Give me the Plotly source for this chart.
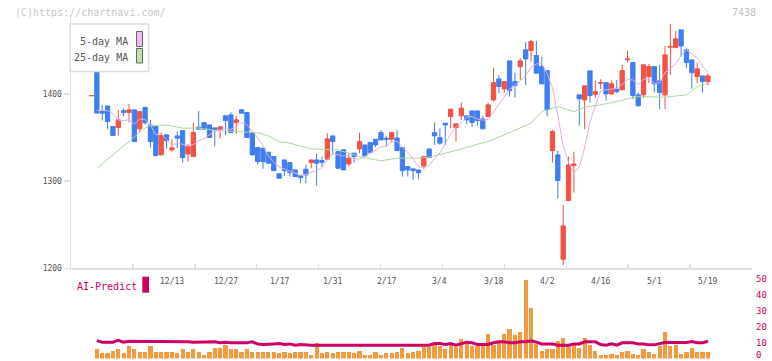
import plotly.graph_objects as go

# ---------------- data ----------------
DATE_LABELS = ["12/13", "12/27", "1/17", "1/31", "2/17", "3/4", "3/18", "4/2", "4/16", "5/1", "5/19"]
DATE_INDEX = [15, 25, 35, 45, 55, 65, 75, 85, 95, 105, 115]

OPEN = [1398, 1440, 1379.7, 1386.2, 1362.5, 1361.4, 1380.8, 1378.6, 1381.7, 1359.9,
        1384.3, 1364.4, 1362.5, 1330.0, 1353.0, 1335.8, 1351.8, 1357.9, 1331.2, 1328.1,
        1361.8, 1367.1, 1364.4, 1361.0, 1359.5, 1374.8, 1375.9, 1367.1, 1381.7, 1378.6,
        1355.6, 1338.4, 1337.7, 1333.1, 1328.1, 1308.3, 1324.3, 1321.2, 1312.8, 1306.0,
        1313.6, 1321.2, 1324.3, 1323.5, 1325.1, 1351.8, 1333.8, 1335.8, 1319.7, 1332.0,
        1336.9, 1341.5, 1344.2, 1348.0, 1355.6, 1349.2, 1348.0, 1349.5, 1338.4, 1316.6,
        1314.0, 1312.8, 1317.4, 1336.9, 1355.6, 1349.9, 1366.4, 1374.0, 1361.4, 1374.8,
        1374.8, 1380.5, 1380.5, 1371.3, 1374.0, 1393.1, 1417.2, 1405.7, 1437.8, 1414.1,
        1431.3, 1450.5, 1449.7, 1443.9, 1431.3, 1426.7, 1335.0, 1330.0, 1210.4, 1277.6,
        1317.8, 1398.9, 1393.1, 1426.4, 1399.7, 1412.3, 1413.0, 1400.0, 1405.4, 1404.6,
        1439.3, 1435.9, 1398.9, 1398.9, 1419.8, 1431.3, 1414.9, 1398.9, 1453.6, 1453.1,
        1473.4, 1450.5, 1439.0, 1419.8, 1420.6, 1414.1]
HIGH = [1398, 1440, 1387.4, 1386.2, 1362.5, 1381.7, 1383.6, 1388.5, 1381.7, 1379.7,
        1385.4, 1370.2, 1362.5, 1355.6, 1353.0, 1348.0, 1356.8, 1357.9, 1342.7, 1367.1,
        1380.5, 1367.1, 1364.4, 1361.0, 1362.2, 1374.8, 1379.0, 1374.8, 1382.8, 1378.6,
        1355.6, 1338.4, 1337.7, 1333.1, 1328.1, 1308.3, 1324.3, 1321.2, 1312.8, 1306.0,
        1318.6, 1324.3, 1331.2, 1328.1, 1354.9, 1351.8, 1333.8, 1335.8, 1330.8, 1332.0,
        1355.6, 1341.5, 1344.2, 1348.0, 1358.7, 1351.8, 1355.6, 1358.7, 1338.4, 1316.6,
        1314.0, 1312.8, 1328.1, 1336.9, 1367.1, 1360.7, 1366.4, 1382.5, 1365.6, 1390.0,
        1374.8, 1380.5, 1380.5, 1374.8, 1390.0, 1430.2, 1421.8, 1414.1, 1437.8, 1424.4,
        1440.9, 1459.3, 1461.9, 1460.8, 1442.8, 1426.7, 1358.7, 1335.0, 1272.7, 1328.1,
        1333.8, 1398.9, 1409.2, 1426.4, 1415.3, 1416.9, 1413.0, 1415.3, 1416.1, 1433.3,
        1449.7, 1435.9, 1401.5, 1433.3, 1434.4, 1431.3, 1433.3, 1455.0, 1480.3, 1472.2,
        1473.4, 1452.4, 1439.0, 1435.9, 1420.6, 1423.7]
LOW = [1398, 1378, 1369.4, 1359.5, 1352.2, 1352.2, 1374.0, 1367.1, 1345.3, 1355.6,
       1364.4, 1338.4, 1329.2, 1330.0, 1336.9, 1333.8, 1337.7, 1321.2, 1322.4, 1328.1,
       1359.5, 1358.7, 1349.9, 1339.6, 1348.4, 1353.0, 1355.6, 1354.1, 1377.9, 1349.9,
       1330.0, 1319.4, 1314.0, 1320.5, 1312.0, 1303.3, 1306.0, 1305.2, 1305.2, 1297.6,
       1297.6, 1314.8, 1294.8, 1316.6, 1325.1, 1330.0, 1314.8, 1312.8, 1316.6, 1321.2,
       1332.0, 1328.9, 1332.7, 1338.9, 1347.2, 1339.6, 1344.2, 1335.0, 1305.2, 1305.2,
       1301.4, 1302.2, 1314.0, 1326.9, 1341.5, 1341.5, 1341.5, 1360.7, 1345.3, 1370.2,
       1365.6, 1361.8, 1363.3, 1359.9, 1374.0, 1391.2, 1400.8, 1401.5, 1396.9, 1395.8,
       1416.1, 1410.3, 1437.0, 1423.7, 1411.5, 1374.0, 1321.2, 1280.4, 1203.9, 1277.6,
       1286.8, 1363.6, 1359.5, 1390.0, 1395.1, 1405.7, 1392.3, 1398.9, 1400.8, 1404.6,
       1435.9, 1393.9, 1386.2, 1395.1, 1412.3, 1401.5, 1382.5, 1382.5, 1421.8, 1453.1,
       1442.8, 1429.5, 1405.7, 1412.3, 1401.5, 1409.5]
CLOSE = [1398, 1378, 1377.9, 1368.2, 1352.2, 1370.2, 1378.6, 1381.7, 1345.3, 1379.7,
         1367.1, 1345.3, 1329.2, 1352.2, 1346.4, 1338.1, 1349.2, 1326.9, 1339.6, 1355.6,
         1359.5, 1359.5, 1349.9, 1358.7, 1362.2, 1369.4, 1355.6, 1370.2, 1377.9, 1349.9,
         1330.0, 1322.4, 1322.4, 1320.5, 1312.0, 1303.3, 1312.0, 1309.7, 1305.2, 1304.0,
         1307.1, 1324.3, 1320.5, 1321.7, 1348.4, 1345.3, 1314.8, 1312.8, 1326.3, 1328.1,
         1345.3, 1328.9, 1332.7, 1341.5, 1347.2, 1348.0, 1355.6, 1335.0, 1312.0, 1312.8,
         1312.0, 1309.7, 1328.1, 1326.9, 1351.8, 1343.5, 1364.4, 1382.5, 1365.6, 1383.6,
         1370.2, 1367.1, 1369.4, 1359.9, 1387.4, 1413.0, 1408.4, 1414.1, 1403.8, 1409.5,
         1437.8, 1440.1, 1460.0, 1423.7, 1411.5, 1381.7, 1356.8, 1300.6, 1248.6, 1318.6,
         1319.7, 1394.3, 1409.2, 1398.1, 1402.6, 1413.0, 1400.0, 1411.5, 1402.6, 1426.7,
         1440.1, 1398.1, 1386.2, 1433.3, 1431.3, 1411.5, 1401.5, 1444.7, 1454.2, 1463.1,
         1455.0, 1435.9, 1424.4, 1428.7, 1414.1, 1420.6]

MA5 = [None, 1381, 1381, 1381, 1377, 1370, 1369.4, 1370.2, 1365.6, 1371.2,
       1370.6, 1363.8, 1353.2, 1354.6, 1347.8, 1342, 1342.8, 1342.4, 1340, 1342,
       1346.4, 1348.6, 1353.2, 1357, 1358.2, 1360, 1359.2, 1363.2, 1367, 1364.6,
       1356.8, 1350, 1340.4, 1329, 1321.4, 1316, 1314, 1311.6, 1308.4, 1306.8,
       1307.6, 1310, 1312.2, 1315.6, 1324.4, 1332, 1330.2, 1328.6, 1329.4, 1325.4,
       1325.4, 1328.2, 1332.2, 1335.4, 1339.2, 1339.8, 1345.2, 1345.6, 1339.6, 1332.8,
       1325.6, 1316.4, 1315, 1318, 1325.8, 1332.2, 1343, 1354, 1361.8, 1368.2,
       1373.4, 1374, 1371.2, 1370, 1370.6, 1379.2, 1387.4, 1396.4, 1405.2, 1409.8,
       1414.8, 1421.2, 1430.4, 1434.4, 1434.8, 1423.6, 1407, 1375.2, 1340.2, 1321.6,
       1309.2, 1316.6, 1338.2, 1368, 1384.8, 1403.4, 1404.6, 1405.2, 1406.2, 1411,
       1416.4, 1416, 1410.8, 1416.8, 1417.6, 1412, 1412.8, 1424.6, 1428.8, 1435.2,
       1443.8, 1450.6, 1446.4, 1441.4, 1431.6, 1424.8]

MA25_INDEX = [1, 5, 8, 10, 11, 14, 17, 20, 24, 31, 33, 35, 37, 41, 46, 50, 54, 57, 61, 63,
              66, 69, 72, 74, 77, 80, 82, 84, 87, 90, 92, 95, 99, 102, 107, 111, 113, 115]
MA25_VALUE = [1314.8, 1335.8, 1351.0, 1361.0, 1363.6, 1364.4, 1360.7, 1360.7, 1357.6, 1355.6,
              1351.8, 1345.3, 1343.5, 1336.9, 1335.8, 1328.1, 1323.2, 1326.3, 1326.3, 1327.4,
              1332.0, 1336.6, 1342.3, 1345.3, 1353.0, 1360.7, 1366.4, 1379.7, 1385.4, 1379.7,
              1384.7, 1387.4, 1393.1, 1396.9, 1396.2, 1398.9, 1408.4, 1412.3]

VOLUME = [None, 5.7, 3.2, 3.2, 5.0, 5.7, 3.2, 7.6, 6.3, 4.4,
          3.8, 7.6, 3.8, 3.8, 3.8, 4.4, 3.2, 5.7, 4.4, 5.7,
          4.4, 1.9, 3.8, 6.9, 6.9, 8.2, 5.7, 6.3, 4.4, 5.7,
          4.4, 3.8, 3.8, 4.4, 3.8, 3.2, 3.8, 3.2, 3.8, 3.8,
          3.8, 2.5, 9.5, 3.2, 4.4, 3.2, 4.4, 3.8, 3.8, 3.2,
          5.0, 2.5, 1.9, 3.8, 2.5, 3.2, 3.2, 3.8, 6.9, 3.2,
          3.8, 5.0, 7.1, 7.2, 8.2, 7.6, 6.3, 8.4, 7.5, 12.6,
          9.5, 7.8, 7.8, 7.8, 15.7, 8.2, 10.5, 15.7, 18.3, 15.1,
          17.0, 49.7, 32.1, 9.2, 5.0, 5.7, 5.7, 11.3, 13.2, 8.2,
          8.2, 6.9, 13.2, 8.2, 5.0, 2.5, 1.9, 3.1, 2.5, 3.8,
          5.0, 3.1, 2.5, 6.3, 3.8, 3.1, 7.6, 17.0, 7.6, 8.2,
          3.1, 3.8, 6.9, 4.4, 4.4, 3.8]

AI_PREDICT = [None, 11.3, 10.3, 10.3, 10.3, 11.5, 10.3, 10.9, 10.9, 10.9,
              10.9, 10.9, 10.9, 10.9, 10.9, 10.9, 10.9, 10.9, 10.5, 10.3,
              10.3, 10.3, 10.3, 10.5, 9.9, 10.3, 10.0, 10.0, 10.0, 10.0,
              10.5, 9.2, 8.8, 9.2, 9.2, 9.4, 8.8, 9.2, 8.4, 8.8,
              8.4, 8.4, 8.4, 8.4, 8.4, 8.4, 8.4, 8.4, 8.4, 8.4,
              8.4, 8.4, 8.4, 8.4, 8.4, 8.4, 8.4, 8.4, 8.4, 8.4,
              8.4, 8.4, 8.4, 8.4, 9.4, 9.4, 8.8, 9.4, 8.4, 9.4,
              10.3, 9.9, 8.8, 8.8, 8.8, 9.9, 10.5, 10.5, 9.9, 9.9,
              10.5, 10.5, 11.1, 10.3, 9.2, 9.2, 9.2, 8.4, 8.4, 8.4,
              9.2, 9.2, 10.5, 10.7, 10.5, 8.8, 8.4, 9.2, 8.4, 9.9,
              9.9, 9.9, 9.2, 9.2, 8.6, 8.6, 9.4, 10.1, 10.1, 10.1,
              10.1, 10.1, 10.7, 9.9, 9.9, 10.9]

PRICE_TICKS = [1200, 1300, 1400]
VOL_TICKS = [10, 20, 30, 40, 50]
VOL_ZERO_LABEL = "0"

# ---------------- layout helpers (pixel geometry) ----------------
W, H = 772, 361
X_LEFT_PX, X_RIGHT_PX = 71, 752
FIRST_PX, STEP_PX = 91.5, 5.36


def idx_at(px):
    return (px - FIRST_PX) / STEP_PX


def fx(px):
    return px / W


def fy(py):
    return 1 - py / H


X_RANGE = [idx_at(X_LEFT_PX), idx_at(X_RIGHT_PX)]
N_GRID = 12
GRID_TICKS = [X_RANGE[0] + k * (X_RANGE[1] - X_RANGE[0]) / (N_GRID - 1) for k in range(N_GRID)]

RED = "#f25241"
BLUE = "#3f7ef0"
PINK = "#e4aee4"
GREEN = "#a9d79f"
ORANGE = "#f3993f"
MAGENTA = "#cc0066"
AXIS = "#e0e0e0"
TXT = "#555555"
FONT = "DejaVu Sans Mono"

idx = list(range(len(CLOSE)))

fig = go.Figure()

fig.add_trace(go.Scatter(x=MA25_INDEX, y=MA25_VALUE, mode="lines",
                         line=dict(color=GREEN, width=1), hoverinfo="skip",
                         xaxis="x", yaxis="y"))
fig.add_trace(go.Scatter(x=list(range(len(MA5))), y=MA5, mode="lines",
                         line=dict(color=PINK, width=1), hoverinfo="skip",
                         xaxis="x", yaxis="y"))
fig.add_trace(go.Candlestick(x=idx, open=OPEN, high=HIGH, low=LOW, close=CLOSE,
                             increasing=dict(line=dict(color=RED, width=1), fillcolor=RED),
                             decreasing=dict(line=dict(color=BLUE, width=1), fillcolor=BLUE),
                             whiskerwidth=0, hoverinfo="skip", xaxis="x", yaxis="y"))

fig.add_trace(go.Bar(x=list(range(len(VOLUME))), y=VOLUME, width=0.78,
                     marker=dict(color=ORANGE, line=dict(width=0)),
                     hoverinfo="skip", xaxis="x2", yaxis="y2"))
fig.add_trace(go.Scatter(x=list(range(len(AI_PREDICT))), y=AI_PREDICT, mode="lines",
                         line=dict(color=MAGENTA, width=3), hoverinfo="skip",
                         xaxis="x2", yaxis="y2"))

x_domain = [fx(X_LEFT_PX), fx(X_RIGHT_PX)]

annotations = []
for lab, i in zip(DATE_LABELS, DATE_INDEX):
    annotations.append(dict(x=i, xref="x", y=fy(281.5), yref="paper", text=lab,
                            showarrow=False, xanchor="center", yanchor="middle",
                            font=dict(family=FONT, size=8, color=TXT)))
annotations += [
    dict(x=fx(13), y=fy(12), xref="paper", yref="paper", text="(C)https://chartnavi.com/",
         showarrow=False, xanchor="left", yanchor="middle",
         font=dict(family=FONT, size=10, color="#c8c8c8")),
    dict(x=fx(758), y=fy(12), xref="paper", yref="paper", text="7438",
         showarrow=False, xanchor="right", yanchor="middle",
         font=dict(family=FONT, size=10, color="#c0c0c0")),
    dict(x=fx(130), y=fy(41), xref="paper", yref="paper", text="5-day MA",
         showarrow=False, xanchor="right", yanchor="middle",
         font=dict(family=FONT, size=10, color=TXT)),
    dict(x=fx(130), y=fy(57.5), xref="paper", yref="paper", text="25-day MA",
         showarrow=False, xanchor="right", yanchor="middle",
         font=dict(family=FONT, size=10, color=TXT)),
    dict(x=fx(75), y=fy(286), xref="paper", yref="paper", text="AI-Predict",
         showarrow=False, xanchor="left", yanchor="middle",
         font=dict(family=FONT, size=10, color=MAGENTA)),
    # "0" label of the lower right scale, kept inside the page edge
    dict(x=fx(755), y=0, xref="paper", yref="paper", text=VOL_ZERO_LABEL,
         showarrow=False, xanchor="left", yanchor="bottom", borderpad=0,
         font=dict(family=FONT, size=9, color=MAGENTA)),
]

shapes = [
    dict(type="rect", xref="paper", yref="paper", x0=fx(70), x1=fx(148.5), y0=fy(71.5), y1=fy(24),
         line=dict(color="#dddddd", width=1.5), fillcolor="white", layer="above"),
    dict(type="rect", xref="paper", yref="paper", x0=fx(136.5), x1=fx(142.5), y0=fy(46.5), y1=fy(31.5),
         line=dict(color="#666666", width=1), fillcolor="#eebcee", layer="above"),
    dict(type="rect", xref="paper", yref="paper", x0=fx(136.5), x1=fx(142.5), y0=fy(63), y1=fy(48.5),
         line=dict(color="#666666", width=1), fillcolor="#bfe0b2", layer="above"),
    dict(type="rect", xref="paper", yref="paper", x0=fx(142.3), x1=fx(149), y0=fy(292.7), y1=fy(276.7),
         line=dict(width=0), fillcolor=MAGENTA, layer="above"),
]

fig.update_layout(
    width=W, height=H, template="none",
    margin=dict(l=0, r=0, t=0, b=0, pad=0),
    paper_bgcolor="white", plot_bgcolor="white",
    showlegend=False, boxgap=0.2, boxgroupgap=0, bargap=0,
    hovermode=False,
    xaxis=dict(domain=x_domain, range=X_RANGE, anchor="y", showline=True, linecolor=AXIS,
               linewidth=1.5, ticks="inside", ticklen=4, tickwidth=1.5, tickcolor=AXIS,
               tickvals=GRID_TICKS, showticklabels=False, showgrid=False, zeroline=False,
               rangeslider=dict(visible=False), automargin=False, fixedrange=True),
    xaxis2=dict(domain=x_domain, range=X_RANGE, anchor="y2", visible=False,
                showgrid=False, zeroline=False, automargin=False, fixedrange=True),
    yaxis=dict(domain=[fy(268.3), fy(15.4)], range=[1200, 1490], anchor="x",
               showline=True, linecolor=AXIS, linewidth=1.5, ticks="outside", ticklen=6,
               tickwidth=1.5, tickcolor=AXIS, tickvals=PRICE_TICKS,
               tickfont=dict(family=FONT, size=8, color=TXT),
               showgrid=False, zeroline=False, automargin=False, fixedrange=True),
    yaxis2=dict(domain=[fy(358.5), fy(279.2)], range=[0, 50], anchor="x2", side="right",
                showline=False, ticks="", tickvals=VOL_TICKS, ticklabelstandoff=3,
                ticklabeloverflow="allow",
                tickfont=dict(family=FONT, size=9, color=MAGENTA),
                showgrid=False, zeroline=False, automargin=False, fixedrange=True),
    annotations=annotations,
    shapes=shapes,
)

fig.write_html("out.html", config={"displayModeBar": False, "staticPlot": True},
               post_script="document.body.style.margin='0px';document.body.style.overflow='hidden';")
